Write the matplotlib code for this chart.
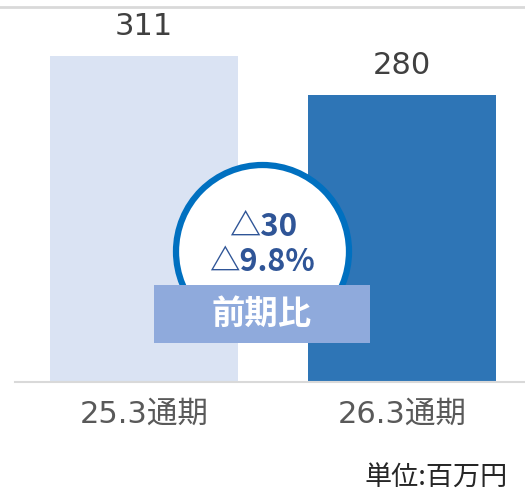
import matplotlib
matplotlib.use("Agg")
import matplotlib.pyplot as plt
from matplotlib.patches import Circle, Rectangle
from matplotlib.lines import Line2D

plt.rcParams['font.family'] = ['Noto Sans CJK JP', 'DejaVu Sans']
num_font = ['DejaVu Sans', 'Noto Sans CJK JP']

# データ
periods = ['25.3通期', '26.3通期']
values = [311, 280]
bar_colors = ['#DAE3F3', '#2E75B6']
diff_label = '△30'
pct_label = '△9.8%'
badge_label = '前期比'
unit_label = '単位:百万円'

fig = plt.figure(figsize=(5.25, 4.88), dpi=100)
ax = fig.add_axes([15 / 525, 106 / 488, 510 / 525, 375 / 488])

x = range(len(periods))
bars = ax.bar(x, values, width=0.73, color=bar_colors)
ax.set_xlim(-0.5, 1.477)
ax.set_ylim(52, 350)

for b, v in zip(bars, values):
    ax.annotate(str(v), (b.get_x() + b.get_width() / 2, v), xytext=(0, 21),
                textcoords='offset points', ha='center', va='center',
                fontsize=22, color='#404040', family=num_font)

ax.set_xticks(list(x))
ax.set_xticklabels(periods, fontsize=22, color='#595959', family=num_font)
ax.tick_params(axis='x', length=0, pad=13)
ax.set_yticks([])
for s in ['left', 'right', 'top']:
    ax.spines[s].set_visible(False)
ax.spines['bottom'].set_color('#D9D9D9')
ax.spines['bottom'].set_linewidth(1.5)

# 上の罫線
fig.add_artist(Line2D([0, 1], [1 - 7 / 488, 1 - 7 / 488], transform=fig.transFigure,
                      color='#D9D9D9', linewidth=2))

# 前期比バッジ
tr = fig.dpi_scale_trans
fig.add_artist(Circle((2.625, 2.365), 0.865, transform=tr, facecolor='white',
                      edgecolor='#0070C0', linewidth=4.5, zorder=5))
fig.add_artist(Rectangle((1.54, 1.45), 2.16, 0.58, transform=tr,
                         facecolor='#8FAADC', edgecolor='none', zorder=6))
fig.text(2.63, 2.61, diff_label, transform=tr, ha='center', va='center',
         fontsize=22.5, fontweight='bold', color='#2F5597', zorder=7)
fig.text(2.62, 2.26, pct_label, transform=tr, ha='center', va='center',
         fontsize=22, fontweight='bold', color='#2F5597', zorder=7)
fig.text(2.62, 1.74, badge_label, transform=tr, ha='center', va='center',
         fontsize=24, fontweight='bold', color='white', zorder=7)

fig.text(5.08, 0.10, unit_label, transform=tr, ha='right', va='center',
         fontsize=19.5, color='#262626')

fig.savefig('out.png', dpi=100)
